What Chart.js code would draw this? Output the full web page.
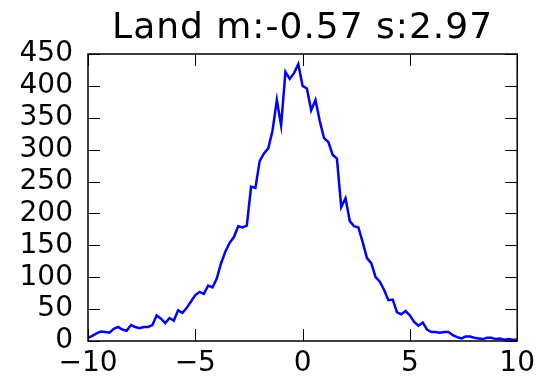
<!DOCTYPE html>
<html>
<head>
<meta charset="utf-8">
<script src="https://cdn.jsdelivr.net/npm/chart.js@4/dist/chart.umd.min.js"></script>
<style>
html,body{margin:0;padding:0;background:#fff;}
#wrap{width:541px;height:378px;position:relative;}
</style>
</head>
<body>
<div id="wrap"><canvas id="c"></canvas></div>
<script>
const titleText = "Land m:-0.57 s:2.97";
const xValues = [];
for (let i = 0; i <= 100; i++) xValues.push(-10 + i * 0.2);
const counts = [
  5, 8, 12, 15, 14, 13, 19, 22, 18, 16,
  25, 22, 20, 22, 22, 25, 40, 35, 28, 36,
  32, 48, 44, 52, 62, 72, 77, 74, 87, 84,
  98, 122, 140, 154, 163, 180, 178, 181, 242, 240,
  282, 294, 302, 330, 378, 338, 422, 411, 420, 434,
  400, 396, 362, 378, 345, 318, 312, 292, 286, 210,
  224, 188, 180, 178, 155, 130, 122, 100, 93, 80,
  64, 65, 45, 42, 47, 40, 30, 24, 29, 18,
  14, 14, 13, 14, 14, 9, 6, 4, 7, 7,
  5, 4, 3, 5, 5, 3, 4, 2, 3, 2, 2
];
const xTicks = [-10, -5, 0, 5, 10];
const xTickLabels = ["\u221210", "\u22125", "0", "5", "10"];
const yTicks = [0, 50, 100, 150, 200, 250, 300, 350, 400, 450];

const FONT = "'DejaVu Sans', sans-serif";

const frameTicks = {
  id: 'frameTicks',
  afterDatasetsDraw(chart) {
    const {ctx, chartArea: a, scales: {x, y}} = chart;
    ctx.save();
    ctx.strokeStyle = '#000';
    ctx.lineWidth = 1;
    const L = 12;
    ctx.beginPath();
    xTicks.forEach(v => {
      const px = Math.round(x.getPixelForValue(v)) + 0.5;
      ctx.moveTo(px, a.bottom); ctx.lineTo(px, a.bottom - L);
      ctx.moveTo(px, a.top); ctx.lineTo(px, a.top + L);
    });
    yTicks.forEach(v => {
      const py = Math.round(y.getPixelForValue(v)) + 0.5;
      ctx.moveTo(a.left, py); ctx.lineTo(a.left + L, py);
      ctx.moveTo(a.right, py); ctx.lineTo(a.right - L, py);
    });
    ctx.stroke();
    ctx.lineWidth = 1.5;
    ctx.strokeRect(a.left, a.top, a.right - a.left, a.bottom - a.top);
    // title centred over the plot area
    ctx.fillStyle = '#000';
    ctx.font = "36px " + FONT;
    ctx.textAlign = 'center';
    ctx.textBaseline = 'alphabetic';
    const w = ctx.measureText(titleText).width;
    if ('letterSpacing' in ctx) {
      ctx.letterSpacing = ((380 - w) / (titleText.length - 1)) + 'px';
    }
    ctx.fillText(titleText, (a.left + a.right) / 2, 38);
    ctx.restore();
  }
};

new Chart(document.getElementById('c'), {
  type: 'line',
  data: {
    datasets: [{
      data: xValues.map((xv, i) => ({x: xv, y: counts[i]})),
      borderColor: '#0000ff',
      borderWidth: 2.5,
      pointRadius: 0,
      tension: 0,
      fill: false
    }]
  },
  options: {
    responsive: true,
    maintainAspectRatio: false,
    animation: false,
    layout: {padding: {left: 0, right: 21, top: 54, bottom: 0}},
    plugins: {
      legend: {display: false},
      tooltip: {enabled: false},
      title: {display: false}
    },
    scales: {
      x: {
        type: 'linear',
        min: -10, max: 10,
        afterBuildTicks: s => { s.ticks = xTicks.map(v => ({value: v})); },
        afterFit: s => { s.height = 37; },
        grid: {display: false, drawTicks: false},
        border: {display: false},
        ticks: {
          color: '#000',
          font: {family: FONT, size: 28},
          padding: 6,
          maxRotation: 0,
          autoSkip: false,
          callback: (v) => xTickLabels[xTicks.indexOf(v)]
        }
      },
      y: {
        type: 'linear',
        min: 0, max: 450,
        afterBuildTicks: s => { s.ticks = yTicks.map(v => ({value: v})); },
        afterFit: s => { s.width = 88; },
        grid: {display: false, drawTicks: false},
        border: {display: false},
        ticks: {
          color: '#000',
          font: {family: FONT, size: 28},
          padding: 15,
          autoSkip: false
        }
      }
    }
  },
  plugins: [frameTicks]
});
</script>
</body>
</html>
